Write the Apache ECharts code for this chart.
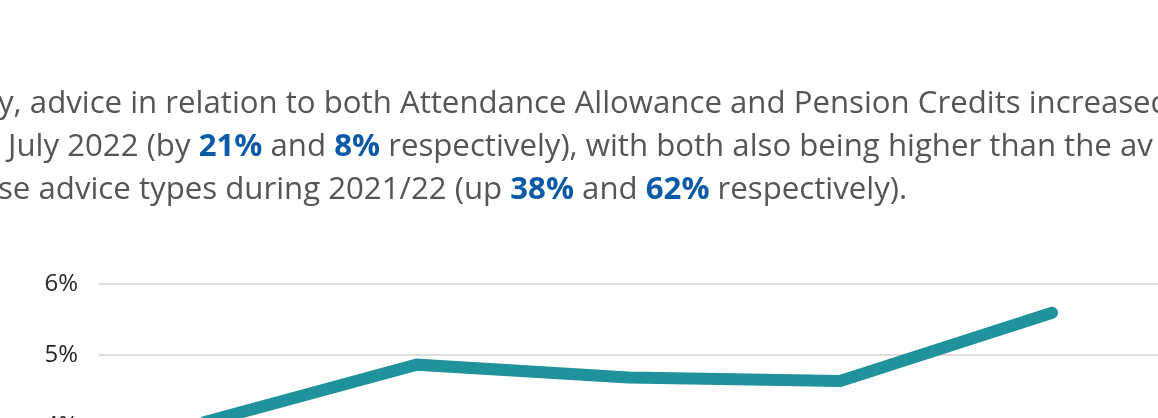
<!DOCTYPE html>
<html>
<head>
<meta charset="utf-8">
<script src="https://cdn.jsdelivr.net/npm/echarts@6/dist/echarts.min.js"></script>
<style>
html,body{margin:0;padding:0;overflow:hidden;background:#fff;}
#chart{width:1158px;height:760px;}
</style>
</head>
<body>
<div id="chart"></div>
<script>
// Data
var categories = ['Mar 2022', 'Apr 2022', 'May 2022', 'Jun 2022', 'Jul 2022'];
var values = [4.05, 4.86, 4.68, 4.63, 5.59];
var yTicks = [0, 1, 2, 3, 4, 5, 6];
var textLines = [
  'y, advice in relation to both Attendance Allowance and Pension Credits increased',
  ' July 2022 (by {b|21%} and {b|8%} respectively), with both also being higher than the av',
  'se advice types during 2021/22 (up {b|38%} and {b|62%} respectively).'
];

var FONT = '"Open Sans", sans-serif';
var chart = echarts.init(document.getElementById('chart'), null, {renderer: 'canvas'});
var lineTops = [89, 132, 174.5];
var lineLefts = [-2, 0, -2];
var titles = textLines.map(function (t, i) {
  return {
    text: t,
    left: lineLefts[i],
    top: lineTops[i],
    padding: 0,
    textStyle: {
      fontFamily: FONT,
      fontSize: 31.2,
      fontWeight: 'normal',
      color: '#555555',
      lineHeight: 31,
      rich: {
        b: {fontFamily: FONT, fontSize: 31.2, fontWeight: 'bold', color: '#0a5aa8', lineHeight: 31}
      }
    }
  };
});

chart.setOption({
  animation: false,
  title: titles,
  grid: {left: 99, top: 283.7, width: 1066, height: 426, containLabel: false},
  xAxis: {
    type: 'category',
    data: categories,
    boundaryGap: true,
    axisLine: {show: false},
    axisTick: {show: false},
    axisLabel: {fontFamily: FONT, fontSize: 20, color: '#333'}
  },
  yAxis: {
    type: 'value',
    min: yTicks[0],
    max: yTicks[yTicks.length - 1],
    interval: 1,
    axisLine: {show: false},
    axisTick: {show: false},
    axisLabel: {formatter: '{value}%', fontFamily: FONT, fontSize: 24, color: '#262626', margin: 21},
    splitLine: {lineStyle: {color: '#dedede', width: 2}}
  },
  series: [{
    type: 'line',
    data: values,
    symbol: 'none',
    smooth: false,
    lineStyle: {color: '#1f929c', width: 12, cap: 'round', join: 'miter'}
  }]
});
</script>
</body>
</html>
